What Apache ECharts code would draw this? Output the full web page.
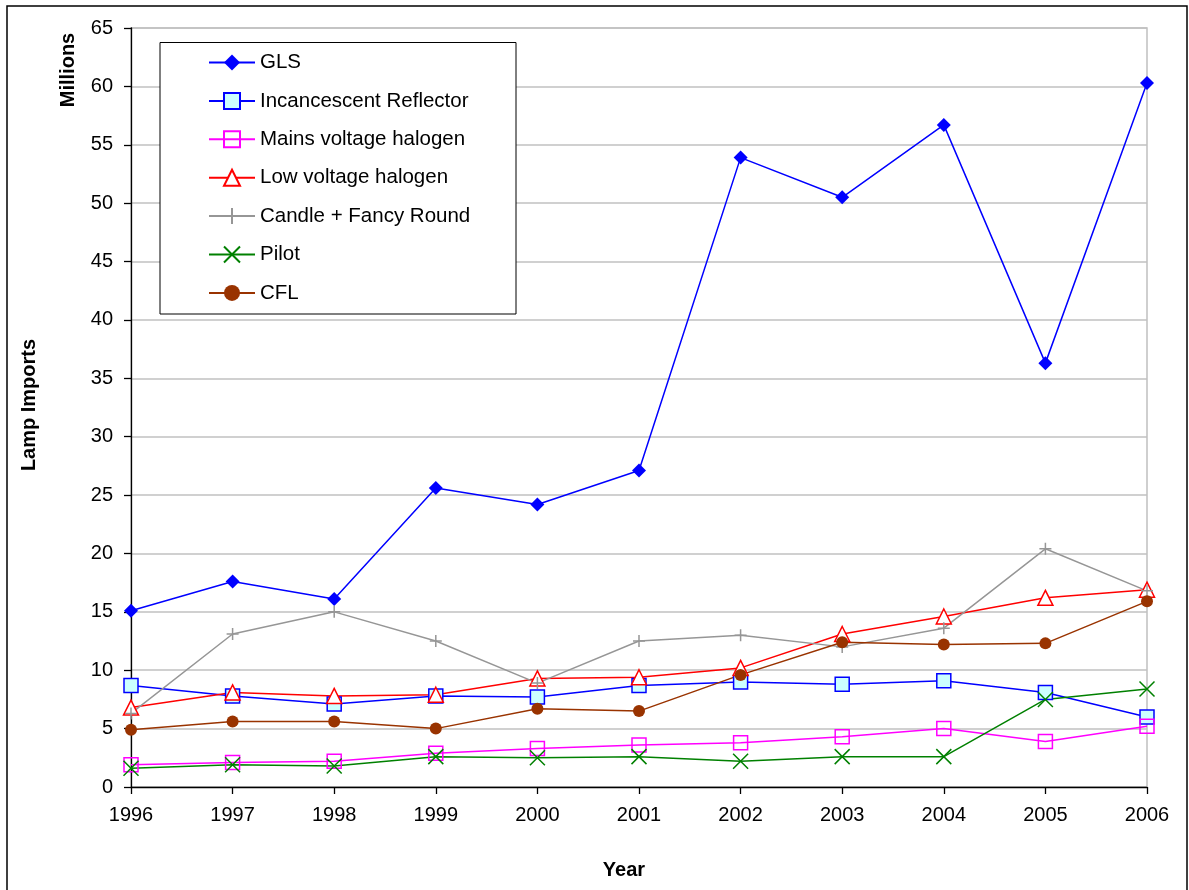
<!DOCTYPE html>
<html>
<head>
<meta charset="utf-8">
<script src="https://cdn.jsdelivr.net/npm/echarts@6/dist/echarts.min.js"></script>
<style>
  html, body { margin: 0; padding: 0; background: #fff; }
  #chart { width: 1189px; height: 890px; }
</style>
</head>
<body>
<div id="chart"></div>
<script>
// Lamp imports by type, millions of units
const years = ['1996', '1997', '1998', '1999', '2000', '2001', '2002', '2003', '2004', '2005', '2006'];
const gls        = [15.1, 17.6, 16.1, 25.6, 24.2, 27.1, 53.9, 50.5, 56.7, 36.3, 60.3];
const reflector  = [8.7, 7.8, 7.1, 7.8, 7.7, 8.7, 9.0, 8.8, 9.1, 8.1, 6.0];
const mainsHalo  = [1.9, 2.1, 2.2, 2.9, 3.3, 3.6, 3.8, 4.3, 5.0, 3.9, 5.2];
const lowHalo    = [6.8, 8.1, 7.8, 7.9, 9.3, 9.4, 10.2, 13.1, 14.6, 16.2, 16.9];
const candle     = [6.3, 13.1, 15.0, 12.5, 8.9, 12.5, 13.0, 12.0, 13.6, 20.4, 16.8];
const pilot      = [1.6, 1.9, 1.8, 2.6, 2.5, 2.6, 2.2, 2.6, 2.6, 7.5, 8.4];
const cfl        = [4.9, 5.6, 5.6, 5.0, 6.7, 6.5, 9.6, 12.4, 12.2, 12.3, 15.9];
const yTicks = { min: 0, max: 65, step: 5 };

const FONT = 'Liberation Sans, Arial, sans-serif';
const PLUS = 'path://M0,5L10,5M5,0L5,10';
const CROSS = 'path://M0,0L10,10M10,0L0,10';

function lineSeries(name, data, color, symbol, size, itemStyle) {
  return {
    name, type: 'line', data,
    symbol, symbolSize: size,
    showAllSymbol: true,
    lineStyle: { color, width: 1.5 },
    itemStyle: Object.assign({ color }, itemStyle || {}),
    emphasis: { disabled: true },
    animation: false,
    z: 3
  };
}

const chart = echarts.init(document.getElementById('chart'), null, { renderer: 'canvas' });
chart.setOption({
  backgroundColor: '#fff',
  animation: false,
  textStyle: { fontFamily: FONT },
  grid: {
    left: 131, right: 42, top: 28, bottom: 103,
    show: true, borderColor: '#c0c0c0', borderWidth: 1.5
  },
  xAxis: {
    type: 'category',
    data: years,
    boundaryGap: false,
    axisLine: { lineStyle: { color: '#000', width: 1.3 } },
    axisTick: { show: true, length: 7, lineStyle: { color: '#000', width: 1.3 } },
    axisLabel: { color: '#000', fontSize: 20, fontFamily: FONT, margin: 18 },
    splitLine: { show: false }
  },
  yAxis: {
    type: 'value',
    min: yTicks.min, max: yTicks.max, interval: yTicks.step,
    axisLine: { show: true, lineStyle: { color: '#000', width: 1.3 } },
    axisTick: { show: true, length: 7, lineStyle: { color: '#000', width: 1.3 } },
    axisLabel: { color: '#000', fontSize: 20, fontFamily: FONT, margin: 18 },
    splitLine: { show: true, lineStyle: { color: '#c0c0c0', width: 1.5 } }
  },
  legend: {
    orient: 'vertical',
    left: 208, top: 52,
    padding: 0,
    itemWidth: 46, itemHeight: 20,
    itemGap: 17.4,
    textStyle: { color: '#000', fontSize: 20.5, fontFamily: FONT, lineHeight: 20 },
    selectedMode: false,
    data: ['GLS', 'Incancescent Reflector', 'Mains voltage halogen', 'Low voltage halogen',
           'Candle + Fancy Round', 'Pilot', 'CFL']
  },
  graphic: [
    { type: 'rect', shape: { x: 7, y: 6, width: 1180, height: 900 },
      style: { fill: 'none', stroke: '#000', lineWidth: 1.5 }, silent: true, z: 0 },
    { type: 'rect', shape: { x: 160, y: 42.5, width: 356, height: 271.5 },
      style: { fill: '#fff', stroke: '#000', lineWidth: 1 }, silent: true, z: 4 },
    { type: 'text', x: 29, y: 405, rotation: Math.PI / 2,
      style: { text: 'Lamp Imports', font: 'bold 20px ' + FONT, fill: '#000',
               align: 'center', verticalAlign: 'middle' }, silent: true },
    { type: 'text', x: 68, y: 70, rotation: Math.PI / 2,
      style: { text: 'Millions', font: 'bold 20px ' + FONT, fill: '#000',
               align: 'center', verticalAlign: 'middle' }, silent: true },
    { type: 'text', x: 624, y: 870,
      style: { text: 'Year', font: 'bold 20px ' + FONT, fill: '#000',
               align: 'center', verticalAlign: 'middle' }, silent: true }
  ],
  series: [
    lineSeries('GLS', gls, '#0000ff', 'diamond', 14),
    lineSeries('Incancescent Reflector', reflector, '#0000ff', 'rect', 14,
      { color: '#ccffff', borderColor: '#0000ff', borderWidth: 1.5 }),
    lineSeries('Mains voltage halogen', mainsHalo, '#ff00ff', 'rect', 14,
      { color: 'rgba(255,255,255,0)', borderColor: '#ff00ff', borderWidth: 1.5 }),
    lineSeries('Low voltage halogen', lowHalo, '#ff0000', 'triangle', 15,
      { color: '#ffffff', borderColor: '#ff0000', borderWidth: 1.5 }),
    lineSeries('Candle + Fancy Round', candle, '#969696', PLUS, 12,
      { color: 'rgba(0,0,0,0)', borderColor: '#969696', borderWidth: 1.5 }),
    lineSeries('Pilot', pilot, '#008000', CROSS, 15,
      { color: 'rgba(0,0,0,0)', borderColor: '#008000', borderWidth: 1.5 }),
    lineSeries('CFL', cfl, '#993300', 'circle', 12)
  ]
});
</script>
</body>
</html>
